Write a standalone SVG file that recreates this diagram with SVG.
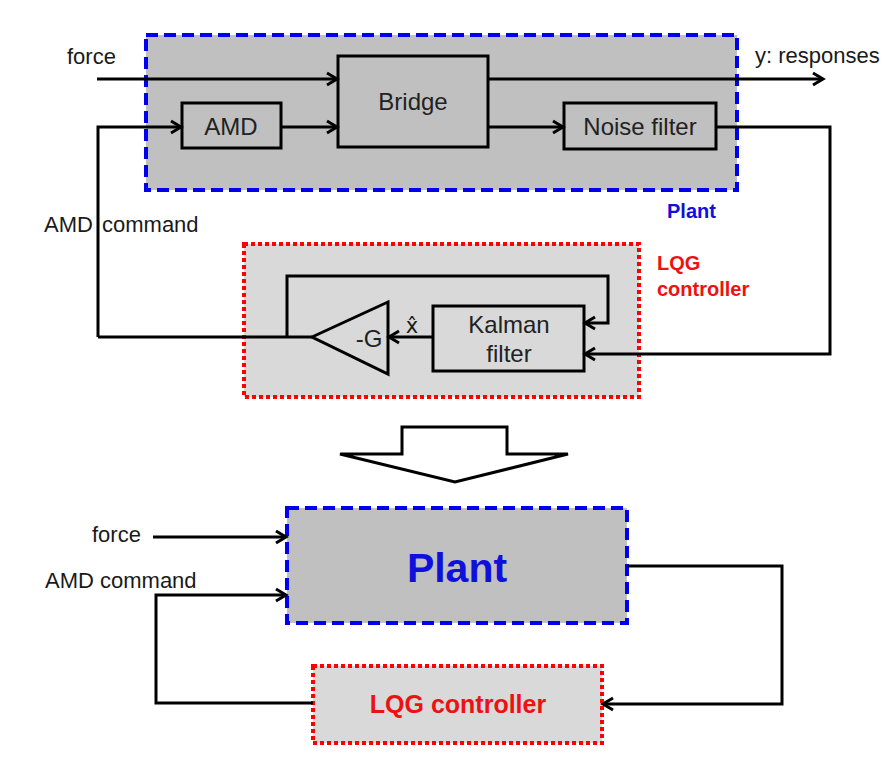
<svg xmlns="http://www.w3.org/2000/svg" width="894" height="761" viewBox="0 0 894 761">
<defs>
<marker id="arr" markerUnits="userSpaceOnUse" markerWidth="16" markerHeight="16" viewBox="0 0 16 16" refX="13" refY="8" orient="auto">
<path d="M3,2 L13,8 L3,14" fill="none" stroke="#000" stroke-width="3"/>
</marker>
<style>
.plant{fill:#c0c0c0;stroke:#0000ee;stroke-width:4;stroke-dasharray:12 6}
.lqg{fill:#d9d9d9;stroke:#ff0000;stroke-width:4;stroke-dasharray:4 3}
.box{fill:#c0c0c0;stroke:#000;stroke-width:3}
.kbox{fill:#d9d9d9;stroke:#000;stroke-width:3}
.ln{fill:none;stroke:#000;stroke-width:3}
.ar{fill:none;stroke:#000;stroke-width:3;marker-end:url(#arr)}
.lbl{font-family:"Liberation Sans",Arial,sans-serif;font-size:22px;fill:#1a1a1a}
.bl{font-family:"Liberation Sans",Arial,sans-serif;font-size:24px;fill:#222}
.blue{font-family:"Liberation Sans",Arial,sans-serif;font-weight:bold;fill:#1010dd}
.red{font-family:"Liberation Sans",Arial,sans-serif;font-weight:bold;fill:#ee1111}
</style>
</defs>

<g id="plant-top">
<rect class="plant" x="146" y="35" width="591" height="155"/>
<text class="blue" x="667" y="218" font-size="20">Plant</text>
</g>
<g id="bridge">
<rect class="box" x="338" y="56" width="150" height="91"/>
<text class="bl" x="413" y="110" text-anchor="middle">Bridge</text>
</g>
<g id="amd">
<rect class="box" x="182" y="103" width="99" height="45"/>
<text class="bl" x="231" y="135" text-anchor="middle">AMD</text>
</g>
<g id="noise-filter">
<rect class="box" x="564" y="103" width="152" height="46"/>
<text class="bl" x="640" y="135" text-anchor="middle">Noise filter</text>
</g>

<g id="lqg-top">
<rect class="lqg" x="244" y="244" width="395" height="153"/>
<text class="red" x="657" y="270" font-size="20">LQG</text>
<text class="red" x="657" y="296" font-size="20">controller</text>
</g>
<g id="kalman">
<rect class="kbox" x="433" y="306" width="151" height="65"/>
<text class="bl" x="509" y="333" text-anchor="middle">Kalman</text>
<text class="bl" x="509" y="362" text-anchor="middle">filter</text>
</g>
<g id="gain">
<polygon class="kbox" points="312,337 388,302 388,374"/>
<text class="bl" x="369" y="347" text-anchor="middle">-G</text>
</g>

<g id="labels">
<text class="lbl" x="67" y="64">force</text>
<text class="lbl" x="755" y="63">y: responses</text>
<text class="lbl" x="44" y="232" word-spacing="3">AMD command</text>
<text x="412" y="333" text-anchor="middle" font-size="21" font-family="'DejaVu Sans',sans-serif" fill="#1a1a1a">x̂</text>
<text class="lbl" x="92" y="542">force</text>
<text class="lbl" x="45" y="588">AMD command</text>
</g>

<g id="big-arrow">
<polygon points="402,427 507,427 507,454 568,454 455,482 340,454 402,454" fill="#fff" stroke="#000" stroke-width="3"/>
</g>

<g id="plant-bottom">
<rect class="plant" x="287" y="508" width="340" height="115"/>
<text class="blue" x="457" y="582" font-size="41" text-anchor="middle">Plant</text>
</g>
<g id="lqg-bottom">
<rect class="lqg" x="313" y="666" width="289" height="77"/>
<text class="red" x="458" y="713" font-size="25" text-anchor="middle">LQG controller</text>
</g>

<g id="connectors">
<path class="ar" d="M97,79 L337,79"/>
<path class="ar" d="M488,79 L823,79"/>
<path class="ar" d="M98,337 L98,127 L181,127"/>
<path class="ar" d="M281,127 L337,127"/>
<path class="ar" d="M488,127 L563,127"/>
<path class="ar" d="M716,127 L830,127 L830,354 L585,354"/>
<path class="ln" d="M312,337 L98,337"/>
<path class="ar" d="M433,337 L389,337"/>
<path class="ar" d="M287,337 L287,276 L608,276 L608,323 L585,323"/>
<path class="ar" d="M153,537 L286,537"/>
<path class="ar" d="M313,703 L156,703 L156,595 L286,595"/>
<path class="ar" d="M627,566 L782,566 L782,704 L603,704"/>
</g>
</svg>
